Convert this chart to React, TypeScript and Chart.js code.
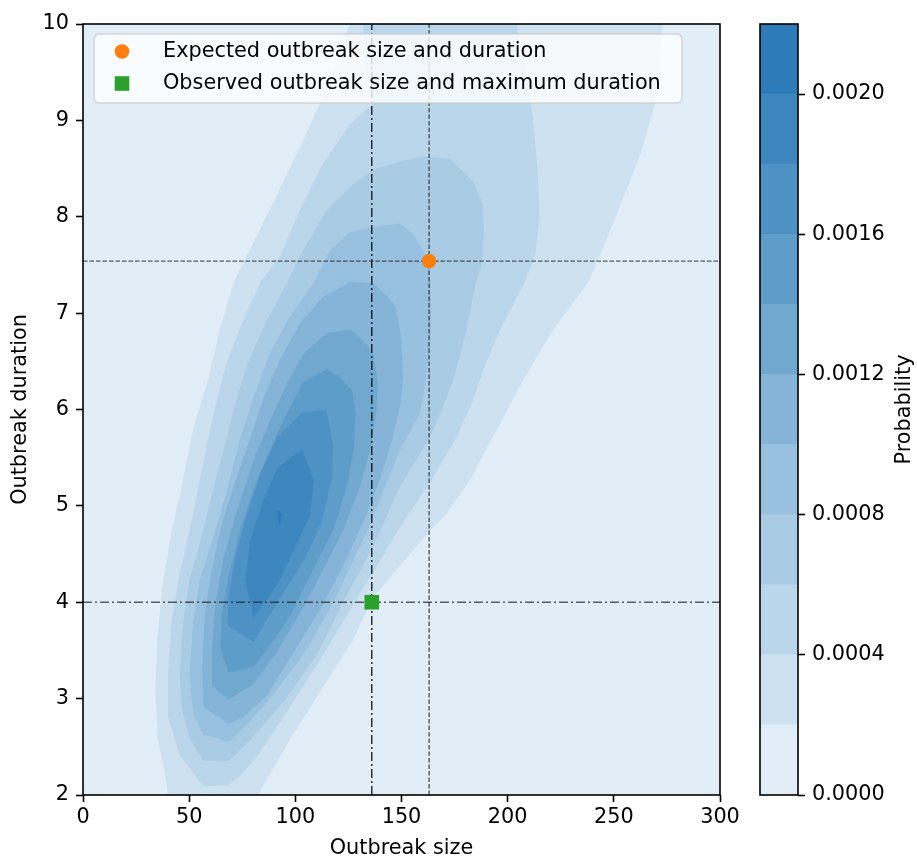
import React, { useEffect, useRef } from "react";
import { Chart, registerables } from "chart.js";

Chart.register(...registerables);

// ---------- data ----------
const xTicks = [0, 50, 100, 150, 200, 250, 300];
const yTicks = [2, 3, 4, 5, 6, 7, 8, 9, 10];
const xRange = [0, 300];
const yRange = [2, 10];

const levels = [0, 0.0002, 0.0004, 0.0006, 0.0008, 0.001, 0.0012, 0.0014, 0.0016, 0.0018, 0.002, 0.0022];
const colorbarTicks = [0, 0.0004, 0.0008, 0.0012, 0.0016, 0.002];
const bandColors = [
  "#e1edf7", "#cde1f0", "#bad6ea", "#a9cbe4", "#98c0df", "#85b4d8",
  "#70a8d0", "#5e9cca", "#4e91c4", "#3e86be", "#2d7bb8",
];

const expectedPoint = { x: 163, y: 7.54 };
const observedPoint = { x: 136, y: 4.0 };
const legendLabels = ["Expected outbreak size and duration", "Observed outbreak size and maximum duration"];

// contour polygons (outbreak size, outbreak duration)
const contour1: number[][] = [
  [40, 2], [38.6, 2.23], [35.3, 2.57], [34, 3.09], [35, 3.61], [37.2, 4.13], [41, 4.65], [47.1, 5.27],
  [51.8, 5.79], [58.9, 6.31], [64.4, 6.83], [71, 7.32], [84.8, 7.93], [100, 8.62], [111.6, 9.17], [125.7, 10],
  [273, 10], [269.5, 9.17], [262, 8.62], [249.6, 7.93], [238, 7.32], [221.5, 6.83], [207.4, 6.31], [194.8, 5.79],
  [182.3, 5.27], [171.3, 4.92], [162.6, 4.72], [150, 4.4], [136.6, 4.05], [127.2, 3.61], [113, 3.12], [97.3, 2.57], [82.4, 2.0],
];
const contour2: number[][] = [
  [68.3, 2.1], [56.5, 2.09], [45.5, 2.42], [40, 2.81], [40, 3.26], [41.6, 3.78], [45.5, 4.3], [49.3, 4.65],
  [53.5, 5.1], [58.1, 5.61], [62.5, 6.05], [67.5, 6.48], [75, 6.9], [84, 7.34], [92.6, 7.58], [102, 8.06],
  [113, 8.55], [125.6, 8.96], [136.6, 9.17], [133, 9.6], [132, 10],
  [204, 10], [209, 9.5], [212, 9.0], [214, 8.5], [215, 8.0], [213, 7.6], [208, 7.32], [196.4, 6.83], [188.5, 6.41],
  [183, 6.06], [175.2, 5.68], [164.2, 5.27], [149.3, 4.78], [139, 4.4], [128, 4.0], [113, 3.45], [97, 2.9], [82, 2.4], [74, 2.2],
];
const contour3: number[][] = [
  [68.3, 2.35], [56.5, 2.36], [50, 2.6], [46.3, 2.92], [45.5, 3.26], [47.1, 3.78], [50.2, 4.23], [55.5, 4.65],
  [60.5, 5.1], [65.9, 5.55], [71, 6.0], [76.9, 6.44], [86, 6.9], [95.8, 7.3], [103.6, 7.65], [114.6, 8.06],
  [127.2, 8.34], [138.1, 8.5], [150.7, 8.58], [161, 8.63], [172.8, 8.6], [183.7, 8.37], [188.2, 8.13], [188.8, 7.86],
  [187.8, 7.51], [185, 7.32], [180.7, 6.83], [174.4, 6.31], [169.7, 6.03], [162.6, 5.68], [149.3, 5.2], [137, 4.6],
  [122.5, 4.0], [110, 3.45], [95, 2.98], [80, 2.6], [72, 2.42],
];
const contour4: number[][] = [
  [68.3, 2.55], [56.5, 2.63], [51.8, 2.85], [50.2, 3.26], [51.8, 3.78], [55, 4.23], [61, 4.65], [67, 5.1],
  [73.8, 5.68], [80, 6.1], [87.9, 6.58], [97, 6.95], [108.3, 7.3], [116.2, 7.65], [125.6, 7.84], [138.1, 7.9],
  [149.3, 7.93], [155.6, 7.82], [163, 7.54], [164.2, 7.0], [163.4, 6.65], [161, 6.24], [158.7, 5.96], [149.3, 5.58],
  [134, 4.75], [118, 4.0], [105, 3.5], [90, 3.05], [78, 2.75], [72, 2.62],
];
const contour5: number[][] = [
  [125.9, 7.32], [136.9, 7.31], [143.2, 7.18], [147.2, 7.07], [149.5, 6.8], [150.8, 6.35], [149.5, 6.05], [146.4, 5.75],
  [140.1, 5.29], [132.2, 4.84], [122.8, 4.39], [111.8, 3.93], [99.2, 3.48], [86.6, 3.03], [75, 2.8], [68.6, 2.74],
  [56.8, 2.91], [56, 3.33], [57.5, 3.89], [60.7, 4.35], [66.2, 4.88], [74.1, 5.41], [78.5, 5.68], [84.8, 6.1],
  [92.6, 6.51], [102, 6.89], [113, 7.17],
];
const contour6: number[][] = [
  [114.9, 6.79], [125.9, 6.83], [131.4, 6.73], [136.9, 6.58], [138.8, 6.27], [138.2, 5.97], [135.4, 5.59], [130.7, 5.22],
  [122.8, 4.76], [113.4, 4.35], [102.4, 3.89], [89.8, 3.44], [80, 3.15], [68.6, 2.99], [60.7, 3.14], [60.7, 3.52],
  [62.3, 3.97], [66.2, 4.46], [72.5, 4.95], [81.1, 5.52], [89.8, 5.97], [96.1, 6.27], [103.9, 6.58],
];
const contour7: number[][] = [
  [103.9, 6.29], [114.9, 6.42], [121.2, 6.33], [126.7, 6.2], [128.3, 5.97], [127.5, 5.59], [124.4, 5.22], [118.1, 4.76],
  [108.6, 4.35], [97.6, 3.86], [88, 3.55], [80.3, 3.33], [68.6, 3.27], [64.6, 3.52], [65.4, 3.89], [68.6, 4.27],
  [74.1, 4.76], [81.1, 5.22], [89.8, 5.67], [96.1, 5.97],
];
const contour8: number[][] = [
  [103.1, 5.97], [114.6, 6.0], [117.8, 5.63], [117.3, 5.29], [112.6, 4.84], [104.7, 4.46], [92.9, 4.05], [80.3, 3.59],
  [68.1, 3.76], [68.6, 4.05], [71.7, 4.46], [77.2, 4.91], [83.5, 5.33], [91.4, 5.71],
];
const contour9: number[][] = [
  [103.1, 5.59], [108.6, 5.27], [107.1, 4.91], [100.8, 4.61], [91.4, 4.18], [80.3, 3.84], [76.4, 4.23], [78.8, 4.65],
  [85.1, 5.07], [91.4, 5.39],
];
const contour10: number[][] = [
  [91.7, 4.96], [93.6, 4.91], [92.6, 4.79], [91.4, 4.88],
];
const contours = [contour1, contour2, contour3, contour4, contour5, contour6, contour7, contour8, contour9, contour10];

// ---------- styles ----------
const FONT = "'DejaVu Sans', sans-serif";
const FS = 20.8;
const ORANGE = "#ff7f0e";
const GREEN = "#2ca02c";
const DASHDOT = [9, 3, 2, 3];
const DASHED = [4.5, 2];

function closed(poly: number[][]) {
  const pts = poly.map(([x, y]) => ({ x, y }));
  pts.push({ x: poly[0][0], y: poly[0][1] });
  return pts;
}

function roundRect(ctx: CanvasRenderingContext2D, x: number, y: number, w: number, h: number, r: number) {
  ctx.beginPath();
  ctx.moveTo(x + r, y);
  ctx.lineTo(x + w - r, y);
  ctx.arcTo(x + w, y, x + w, y + r, r);
  ctx.lineTo(x + w, y + h - r);
  ctx.arcTo(x + w, y + h, x + w - r, y + h, r);
  ctx.lineTo(x + r, y + h);
  ctx.arcTo(x, y + h, x, y + h - r, r);
  ctx.lineTo(x, y + r);
  ctx.arcTo(x, y, x + r, y, r);
  ctx.closePath();
}

const mainDecor = {
  id: "mainDecor",
  beforeDatasetsDraw(chart: any) {
    const { ctx, chartArea: a } = chart;
    ctx.save();
    ctx.fillStyle = bandColors[0];
    ctx.fillRect(a.left, a.top, a.right - a.left, a.bottom - a.top);
    ctx.restore();
  },
  afterDatasetsDraw(chart: any) {
    const { ctx, chartArea: a } = chart;
    ctx.save();
    // legend
    const lx = a.left + 11, ly = a.top + 10, lw = 588, lh = 69;
    roundRect(ctx, lx, ly, lw, lh, 5);
    ctx.fillStyle = "rgba(255,255,255,0.8)";
    ctx.fill();
    ctx.strokeStyle = "rgba(204,204,204,0.8)";
    ctx.lineWidth = 1.5;
    ctx.stroke();
    const rows = [ly + 17.5, ly + 49.5];
    const mx = lx + 28;
    ctx.fillStyle = ORANGE;
    ctx.beginPath();
    ctx.arc(mx, rows[0], 7.3, 0, Math.PI * 2);
    ctx.fill();
    ctx.fillStyle = GREEN;
    ctx.fillRect(mx - 7.3, rows[1] - 7.3, 14.6, 14.6);
    ctx.fillStyle = "#000";
    ctx.font = `${FS}px ${FONT}`;
    ctx.textBaseline = "middle";
    ctx.textAlign = "left";
    legendLabels.forEach((t, i) => ctx.fillText(t, lx + 69, rows[i]));
    // spines
    ctx.strokeStyle = "#000";
    ctx.lineWidth = 1.6;
    ctx.strokeRect(a.left, a.top, a.right - a.left, a.bottom - a.top);
    ctx.restore();
  },
};

const cbDecor = {
  id: "cbDecor",
  afterDatasetsDraw(chart: any) {
    const { ctx, chartArea: a } = chart;
    ctx.save();
    ctx.strokeStyle = "#000";
    ctx.lineWidth = 1.6;
    ctx.strokeRect(a.left, a.top, a.right - a.left, a.bottom - a.top);
    ctx.translate(160, (a.top + a.bottom) / 2);
    ctx.rotate(-Math.PI / 2);
    ctx.fillStyle = "#000";
    ctx.font = `${FS}px ${FONT}`;
    ctx.textAlign = "center";
    ctx.textBaseline = "middle";
    ctx.fillText("Probability", 0, 0);
    ctx.restore();
  },
};

const tickGrid = {
  display: true,
  drawOnChartArea: false,
  drawTicks: true,
  tickLength: 7,
  tickWidth: 1.6,
  tickColor: "#000",
};

export default function App() {
  const mainRef = useRef<HTMLCanvasElement>(null);
  const cbRef = useRef<HTMLCanvasElement>(null);

  useEffect(() => {
    Chart.defaults.font.family = FONT;
    Chart.defaults.font.size = FS;
    Chart.defaults.color = "#000";

    const contourSets = contours.map((poly, i) => ({
      type: "scatter" as const,
      data: closed(poly),
      showLine: true,
      fill: "shape",
      backgroundColor: bandColors[i + 1],
      borderColor: "rgba(0,0,0,0)",
      borderWidth: 0,
      pointRadius: 0,
      pointHoverRadius: 0,
      tension: 0,
      order: 100 - i,
    }));

    const refLine = (data: any[], dash: number[], color: string) => ({
      type: "scatter" as const,
      data,
      showLine: true,
      fill: false,
      borderColor: color,
      borderWidth: 1.4,
      borderDash: dash,
      pointRadius: 0,
      pointHoverRadius: 0,
      order: 10,
    });

    const main = new Chart(mainRef.current!, {
      type: "scatter",
      data: {
        datasets: [
          ...contourSets,
          refLine([{ x: observedPoint.x, y: yRange[0] }, { x: observedPoint.x, y: yRange[1] }], DASHDOT, "rgba(0,0,0,0.85)"),
          refLine([{ x: expectedPoint.x, y: yRange[0] }, { x: expectedPoint.x, y: yRange[1] }], DASHED, "rgba(30,30,30,0.7)"),
          refLine([{ x: xRange[0], y: expectedPoint.y }, { x: xRange[1], y: expectedPoint.y }], DASHED, "rgba(30,30,30,0.7)"),
          refLine([{ x: xRange[0], y: observedPoint.y }, { x: xRange[1], y: observedPoint.y }], DASHDOT, "rgba(30,30,30,0.7)"),
          {
            type: "scatter" as const,
            label: legendLabels[0],
            data: [expectedPoint],
            pointStyle: "circle",
            pointRadius: 7.3,
            pointHoverRadius: 7.3,
            backgroundColor: ORANGE,
            borderColor: ORANGE,
            borderWidth: 0,
            order: 1,
          },
          {
            type: "scatter" as const,
            label: legendLabels[1],
            data: [observedPoint],
            pointStyle: "rect",
            pointRadius: 10.3,
            pointHoverRadius: 10.3,
            backgroundColor: GREEN,
            borderColor: GREEN,
            borderWidth: 0,
            order: 0,
          },
        ] as any,
      },
      options: {
        responsive: false,
        animation: false,
        events: [],
        layout: { padding: { left: 0, top: 24, right: 25, bottom: 0 } },
        plugins: { legend: { display: false }, tooltip: { enabled: false } },
        scales: {
          x: {
            type: "linear",
            min: xRange[0],
            max: xRange[1],
            afterBuildTicks: (s: any) => { s.ticks = xTicks.map((v) => ({ value: v })); },
            afterFit: (s: any) => { s.height = 62; },
            ticks: { autoSkip: false, maxRotation: 0, padding: 5, font: { size: FS, lineHeight: 1 }, callback: (v: any) => String(v) },
            grid: tickGrid,
            border: { display: false },
            title: { display: true, text: "Outbreak size", font: { size: FS, lineHeight: 0.85 }, padding: { top: 0, bottom: 0 } },
          },
          y: {
            type: "linear",
            min: yRange[0],
            max: yRange[1],
            afterBuildTicks: (s: any) => { s.ticks = yTicks.map((v) => ({ value: v })); },
            afterFit: (s: any) => { s.width = 83; },
            ticks: { autoSkip: false, padding: 7, font: { size: FS }, callback: (v: any) => String(v) },
            grid: tickGrid,
            border: { display: false },
            title: { display: true, text: "Outbreak duration", font: { size: FS }, padding: { top: 8.5, bottom: 0 } },
          },
        },
      },
      plugins: [mainDecor],
    } as any);

    const cb = new Chart(cbRef.current!, {
      type: "bar",
      data: {
        labels: [""],
        datasets: bandColors.map((c, i) => ({
          data: [[levels[i], levels[i + 1]]],
          backgroundColor: c,
          borderWidth: 0,
          grouped: false,
          barPercentage: 1,
          categoryPercentage: 1,
        })) as any,
      },
      options: {
        responsive: false,
        animation: false,
        events: [],
        layout: { padding: { left: 15, top: 24, right: 0, bottom: 62 } },
        plugins: { legend: { display: false }, tooltip: { enabled: false } },
        scales: {
          x: { display: false },
          y: {
            type: "linear",
            position: "right",
            min: levels[0],
            max: levels[levels.length - 1],
            afterBuildTicks: (s: any) => { s.ticks = colorbarTicks.map((v) => ({ value: v })); },
            afterFit: (s: any) => { s.width = 119; },
            ticks: { autoSkip: false, padding: 7, font: { size: FS }, callback: (v: any) => Number(v).toFixed(4) },
            grid: tickGrid,
            border: { display: false },
          },
        },
      },
      plugins: [cbDecor],
    } as any);

    return () => {
      main.destroy();
      cb.destroy();
    };
  }, []);

  return (
    <div style={{ position: "fixed", left: 0, top: 0, width: 917, height: 857, background: "#fff" }}>
      <canvas ref={mainRef} width={745} height={857} style={{ position: "absolute", left: 0, top: 0 }} />
      <canvas ref={cbRef} width={172} height={857} style={{ position: "absolute", left: 745, top: 0 }} />
    </div>
  );
}
